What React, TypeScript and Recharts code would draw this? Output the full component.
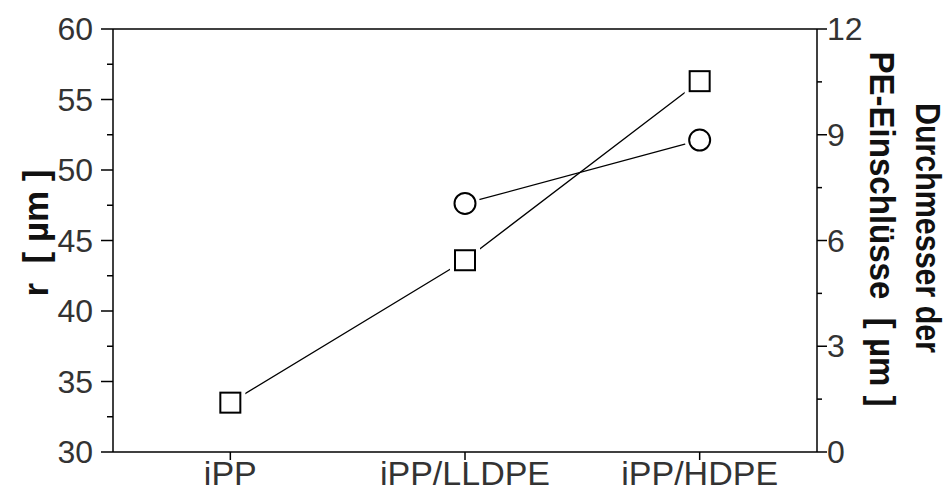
import { LineChart, Line, XAxis, YAxis, ReferenceLine } from "recharts";

const categories = ["iPP", "iPP/LLDPE", "iPP/HDPE"];
const radius = [33.5, 43.6, 56.3];
const diameter = [null, 7.05, 8.85];
const leftTicks = [30, 32.5, 35, 37.5, 40, 42.5, 45, 47.5, 50, 52.5, 55, 57.5, 60];
const rightTicks = [0, 1.5, 3, 4.5, 6, 7.5, 9, 10.5, 12];

const data = categories.map((name, i) => ({
  pos: i + 1,
  name,
  r: radius[i],
  d: diameter[i],
}));

const FONT = "'Liberation Sans', Arial, sans-serif";

function LeftTick({ x, y, payload }: any) {
  const major = payload.value % 5 === 0;
  return (
    <g>
      <line x1={x - (major ? 12 : 6)} x2={x} y1={y} y2={y} stroke="#000" strokeWidth={1.5} />
      {major && (
        <text x={x - 20} y={y + 11} textAnchor="end" fontSize={32} fontFamily={FONT} fill="#333">
          {payload.value}
        </text>
      )}
    </g>
  );
}

function RightTick({ x, y, payload }: any) {
  const major = payload.value % 3 === 0;
  return (
    <g>
      <line x1={x} x2={x + (major ? 10 : 5)} y1={y} y2={y} stroke="#000" strokeWidth={1.5} />
      {major && (
        <text x={x + 10} y={y + 11} textAnchor="start" fontSize={32} fontFamily={FONT} fill="#333">
          {payload.value}
        </text>
      )}
    </g>
  );
}

function BottomTick({ x, y, payload }: any) {
  return (
    <g>
      <line x1={x} x2={x} y1={y} y2={y + 8} stroke="#000" strokeWidth={1.5} />
      <text x={x} y={y + 33} textAnchor="middle" fontSize={34} fontFamily={FONT} fill="#333">
        {categories[payload.value - 1]}
      </text>
    </g>
  );
}

function SquareDot({ cx, cy }: any) {
  if (cx == null || cy == null) return null;
  return (
    <g>
      <rect x={cx - 15} y={cy - 15} width={30} height={30} fill="#fff" />
      <rect x={cx - 10} y={cy - 10} width={20} height={20} fill="#fff" stroke="#000" strokeWidth={2} />
    </g>
  );
}

function CircleDot({ cx, cy }: any) {
  if (cx == null || cy == null) return null;
  return (
    <g>
      <circle cx={cx} cy={cy} r={15} fill="#fff" />
      <circle cx={cx} cy={cy} r={10.5} fill="#fff" stroke="#000" strokeWidth={2} />
    </g>
  );
}

export default function App() {
  return (
    <div style={{ position: "absolute", left: 0, top: 0, width: 947, height: 500, background: "#fff" }}>
      <LineChart width={947} height={500} data={data} margin={{ top: 29, right: 0, left: 0, bottom: 0 }}>
        <XAxis
          dataKey="pos"
          type="number"
          domain={[0.5, 3.5]}
          ticks={[1, 2, 3]}
          height={48}
          tickSize={0}
          tickMargin={0}
          tickLine={false}
          axisLine={{ stroke: "#000", strokeWidth: 1.5 }}
          tick={<BottomTick />}
        />
        <YAxis
          yAxisId="left"
          domain={[30, 60]}
          ticks={leftTicks}
          interval={0}
          width={113}
          tickSize={0}
          tickMargin={0}
          tickLine={false}
          axisLine={{ stroke: "#000", strokeWidth: 1.5 }}
          tick={<LeftTick />}
        />
        <YAxis
          yAxisId="right"
          orientation="right"
          domain={[0, 12]}
          ticks={rightTicks}
          interval={0}
          width={130}
          tickSize={0}
          tickMargin={0}
          tickLine={false}
          axisLine={{ stroke: "#000", strokeWidth: 1.5 }}
          tick={<RightTick />}
        />
        <ReferenceLine yAxisId="left" y={60} stroke="#000" strokeWidth={1.5} />
        <Line
          yAxisId="left"
          dataKey="r"
          stroke="#000"
          strokeWidth={1.3}
          dot={<SquareDot />}
          activeDot={false}
          isAnimationActive={false}
        />
        <Line
          yAxisId="right"
          dataKey="d"
          stroke="#000"
          strokeWidth={1.3}
          dot={<CircleDot />}
          activeDot={false}
          isAnimationActive={false}
        />
      </LineChart>
      <svg width={947} height={500} style={{ position: "absolute", left: 0, top: 0, pointerEvents: "none" }}>
        <text
          transform="translate(35,233) rotate(-90)"
          dy="0.36em"
          textAnchor="middle"
          fontSize={35}
          fontWeight="bold"
          fontFamily={FONT}
          fill="#111"
          textLength={127}
          lengthAdjust="spacingAndGlyphs"
          style={{ whiteSpace: "pre" }}
        >
          {"r  [ µm ]"}
        </text>
        <text
          transform="translate(929,228) rotate(90)"
          dy="0.36em"
          textAnchor="middle"
          fontSize={35}
          fontWeight="bold"
          fontFamily={FONT}
          fill="#111"
          textLength={250}
          lengthAdjust="spacingAndGlyphs"
          style={{ whiteSpace: "pre" }}
        >
          {"Durchmesser der"}
        </text>
        <text
          transform="translate(883,229) rotate(90)"
          dy="0.36em"
          textAnchor="middle"
          fontSize={35}
          fontWeight="bold"
          fontFamily={FONT}
          fill="#111"
          textLength={355}
          lengthAdjust="spacingAndGlyphs"
          style={{ whiteSpace: "pre" }}
        >
          {"PE-Einschlüsse  [ µm ]"}
        </text>
      </svg>
    </div>
  );
}
